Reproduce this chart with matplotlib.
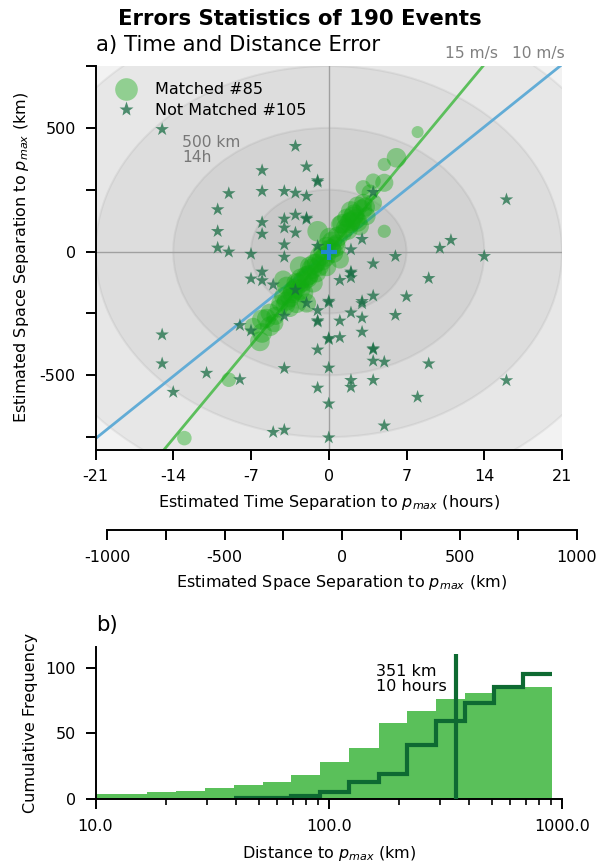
import matplotlib
matplotlib.use("Agg")
import matplotlib.pyplot as plt
from matplotlib.patches import Ellipse
from matplotlib.lines import Line2D
from matplotlib.ticker import FixedLocator, FuncFormatter, LogLocator, NullFormatter
import numpy as np

plt.rcParams['font.family'] = ['DejaVu Sans']
plt.rcParams['axes.unicode_minus'] = False

# ---------------- data ----------------
# Matched events: time error (hours), space error (km), marker size
matched_hours = [8.0, 6.1, 5.0, 4.0, 5.0, 3.1, 3.7, 4.0, 3.1, 2.6, 2.0, 1.6, 2.0, 3.4, 2.8, 1.0, 1.3, 0.7,
                 5.0, 0.1, -1.0, -0.2, 0.4, 1.0, -0.8, -1.7, -1.1, -2.6, -2.0, -2.9, -3.8, -4.1, -1.4,
                 -2.3, -3.5, -4.1, -2.9, -2.0, -3.5, -4.4, -2.6, -1.1, -0.2, -6.0, -5.3, -5.3, -6.0,
                 -6.2, -6.8, -4.9, -9.0, -13.0, 1.9, 2.3, 2.6, 1.5, 3.0, 2.2, 1.2, 0.6, -0.5, -0.3,
                 -1.5, -2.3, -3.2, -3.0, -3.8, -2.5, -1.8, -0.6, 0.2, -1.3, -3.3, -4.5, -2.7, -0.9,
                 0.8, 1.7, 2.4, 3.3, -5.6, -4.8, 0.3, -1.9, -3.9]
matched_km = [483, 379, 352, 285, 278, 258, 238, 197, 197, 183, 163, 136, 123, 143, 102, 109, 76, 35,
              82, 55, 82, 21, -5, -32, -19, -60, -46, -60, -100, -127, -140, -113, -127,
              -167, -187, -181, -208, -208, -228, -208, -154, -86, -60, -275, -248, -302, -329,
              -363, -302, -289, -518, -754, 116, 150, 120, 95, 170, 140, 112, 20, 5, -20,
              -70, -120, -160, -150, -200, -110, -95, -35, 10, -50, -170, -230, -130, -60,
              60, 88, 130, 180, -270, -260, 40, -105, -215]
matched_size = [75, 200, 90, 120, 170, 120, 140, 160, 170, 200, 210, 180, 200, 170, 170, 170, 160, 150,
                90, 220, 220, 190, 210, 170, 210, 200, 190, 210, 220, 210, 190, 170, 190,
                210, 190, 170, 210, 190, 170, 150, 220, 190, 200, 210, 180, 200, 200,
                200, 150, 170, 110, 110, 220, 210, 200, 190, 210, 220, 200, 220, 210, 220,
                220, 220, 210, 210, 190, 220, 210, 220, 210, 210, 200, 170, 220, 210,
                210, 210, 210, 190, 190, 170, 210, 220, 200]

# Not matched events: time error (hours), space error (km)
unmatched_hours = [-15, -3, -6, -2, -1, -1,
                   -9, -6, -4, -3, -2,
                   -10, -6, -4, -3, -2, -2,
                   -10, -6, -4, -3,
                   -10, -9, -7, -4, -4, -1,
                   2, 3, 6, 10, 4,
                   -7, -6, -6, -5, -3,
                   2, 2, 2, 1, 9,
                   -2, 0, 0, 3, 3, 4, 7,
                   -1, 2, 3, 6,
                   -8, -7, -4,
                   -1, -1, 1, 3,
                   0, 0, 1, -1,
                   4, 4, 4, 5, 9,
                   -4, 0, -11, -8,
                   2, 2, 4, -1, 8,
                   4, 16, 11, 14, 16,
                   0, 5, 0,
                   -15, -15, -14, -5, -4]
unmatched_km = [494, 426, 328, 343, 287, 281,
                235, 244, 244, 237, 224,
                170, 118, 132, 148, 136, 131,
                82, 71, 96, 76,
                15, -1, -10, 28, -22, 22,
                8, 50, -19, 14, -49,
                -110, -82, -117, -134, -155,
                -82, -87, -105, -116, -108,
                -208, -200, -206, -201, -210, -179, -182,
                -238, -247, -268, -257,
                -298, -320, -260,
                -279, -284, -280, -325,
                -350, -355, -347, -397,
                -392, -396, -442, -446, -453,
                -472, -470, -491, -517,
                -520, -548, -520, -551, -588,
                240, 210, 46, -19, -521,
                -615, -704, -752,
                -336, -453, -568, -730, -721]

n_matched = 85
n_unmatched = 105

ring_hours = [28, 21, 14, 7]
ring_km = [1000, 750, 500, 250]
speeds_mps = [15, 10]
speed_colors = ['#5cbf5c', '#62acd6']

# histogram (cumulative counts per log bin)
bin_edges = [9.4, 12.5, 16.7, 22.1, 29.5, 39.3, 52.0, 69.2, 92.1, 122.7, 164, 217, 288, 384, 512, 678, 904]
cum_matched = [4, 4, 5, 6, 8, 11, 13, 18, 28, 39, 58, 67, 76, 81, 85, 85]
step_edges = [39.3, 52.0, 69.2, 92.1, 122.7, 164, 217, 288, 384, 512, 678, 904]
cum_unmatched = [1, 1, 2, 5, 13, 19, 41, 59, 73, 85, 95]
median_km = 351
median_hours = 10

# ---------------- figure ----------------
fig = plt.figure(figsize=(6, 8.65), dpi=100)

tick_kw = dict(length=7, width=1.4, labelsize=11.5, pad=7.2)

ax = fig.add_axes([95.5 / 600, (865 - 449.5) / 865, 466.5 / 600, 383.5 / 865])
ax.set_facecolor('#f2f2f2')
for h, k in zip(ring_hours, ring_km):
    ax.add_patch(Ellipse((0, 0), 2 * h, 2 * k, facecolor=(0, 0, 0, 0.045),
                         edgecolor=(0, 0, 0, 0.05), lw=1.5, zorder=0.5))
ax.axhline(0, color='#a0a0a0', lw=1, zorder=0.6)
ax.axvline(0, color='#a0a0a0', lw=1, zorder=0.6)

xl = np.array([-21, 21])
for v, c in zip(speeds_mps, speed_colors):
    ax.plot(xl, xl * v * 3.6, color=c, lw=2, zorder=1)

ax.scatter(matched_hours, matched_km, s=matched_size, color='#12ab12', alpha=0.4,
           edgecolors='none', zorder=2)
ax.scatter(unmatched_hours, unmatched_km, s=105, marker='*', color='#1a6e45', alpha=0.75,
           edgecolors='none', zorder=3)
ax.plot([0], [0], marker='+', ms=11, mew=3, color='#1f88d0', zorder=4)

ax.set_xlim(-21, 21)
ax.set_ylim(-800, 750)
ax.xaxis.set_major_locator(FixedLocator([-21, -14, -7, 0, 7, 14, 21]))
ax.yaxis.set_major_locator(FixedLocator([-750, -500, -250, 0, 250, 500, 750]))
ax.yaxis.set_major_formatter(FuncFormatter(lambda v, p: '%d' % v if v % 500 == 0 else ''))
ax.tick_params(**tick_kw)
for s in ['top', 'right']:
    ax.spines[s].set_visible(False)
for s in ['left', 'bottom']:
    ax.spines[s].set_linewidth(1.4)
ax.set_xlabel('Estimated Time Separation to $p_{max}$ (hours)', fontsize=11.5, labelpad=6)
ax.set_ylabel('Estimated Space Separation to $p_{max}$ (km)', fontsize=11.5, labelpad=6)

handles = [Line2D([], [], ls='', marker='o', ms=16.3, color='#12ab12', alpha=0.4, mec='none'),
           Line2D([], [], ls='', marker='*', ms=11, color='#1a6e45', alpha=0.75, mec='none')]
ax.legend(handles, ['Matched #%d' % n_matched, 'Not Matched #%d' % n_unmatched],
          loc='upper left', bbox_to_anchor=(0.0065, 0.987), frameon=False, fontsize=11.5,
          handlelength=2.0, handletextpad=0.85, labelspacing=0.35, borderaxespad=0.3)

ax.text(-13.2, 470, '500 km\n14h', color='#777777', fontsize=11.2, ha='left', va='top',
        linespacing=1.0)

fig.text(471.7 / 600, 1 - 58 / 865, '%d m/s' % speeds_mps[0], color='#808080', fontsize=11.2,
         ha='center', va='baseline')
fig.text(538 / 600, 1 - 58 / 865, '%d m/s' % speeds_mps[1], color='#808080', fontsize=11.2,
         ha='center', va='baseline')

fig.text(0.5, 1 - 25 / 865, 'Errors Statistics of %d Events' % (n_matched + n_unmatched),
         fontsize=15.3, fontweight='bold', ha='center', va='baseline')
fig.text(96 / 600, 1 - 50.7 / 865, 'a) Time and Distance Error', fontsize=15.3,
         ha='left', va='baseline')

# secondary distance axis
ax2 = fig.add_axes([107 / 600, (865 - 530) / 865, 470 / 600, 0.0001])
ax2.set_facecolor('none')
for s in ['top', 'right', 'left']:
    ax2.spines[s].set_visible(False)
ax2.spines['bottom'].set_linewidth(1.4)
ax2.set_xlim(-1000, 1000)
ax2.set_yticks([])
ax2.xaxis.set_major_locator(FixedLocator(list(range(-1000, 1001, 250))))
ax2.xaxis.set_major_formatter(FuncFormatter(lambda v, p: '%d' % v if v % 500 == 0 else ''))
ax2.tick_params(**tick_kw)
ax2.set_xlabel('Estimated Space Separation to $p_{max}$ (km)', fontsize=11.5, labelpad=6)

# histogram
ax3 = fig.add_axes([95.5 / 600, (865 - 799) / 865, 466.5 / 600, 152 / 865])
ax3.stairs(cum_matched, bin_edges, fill=True, color='#5ac05a', zorder=1)
ax3.stairs(cum_unmatched, step_edges, baseline=None, color='#0e6a32', lw=3, zorder=2)
ax3.vlines(median_km, 0, 110, color='#0e6a32', lw=3, zorder=3)
ax3.text(160, 103, '%d km\n%d hours' % (median_km, median_hours), fontsize=11.5,
         ha='left', va='top', linespacing=1.0)
ax3.set_xscale('log')
ax3.set_xlim(10, 1000)
ax3.set_ylim(0, 115.7)
ax3.xaxis.set_major_locator(FixedLocator([10, 100, 1000]))
ax3.xaxis.set_major_formatter(FuncFormatter(lambda v, p: '%.1f' % v))
ax3.xaxis.set_minor_locator(LogLocator(base=10, subs=np.arange(2, 10)))
ax3.xaxis.set_minor_formatter(NullFormatter())
ax3.yaxis.set_major_locator(FixedLocator([0, 50, 100]))
ax3.tick_params(**tick_kw)
ax3.tick_params(which='minor', length=4, width=1.2)
for s in ['top', 'right']:
    ax3.spines[s].set_visible(False)
for s in ['left', 'bottom']:
    ax3.spines[s].set_linewidth(1.4)
ax3.set_xlabel('Distance to $p_{max}$ (km)', fontsize=11.5, labelpad=7.5)
ax3.set_ylabel('Cumulative Frequency', fontsize=11.5, labelpad=5)
fig.text(96 / 600, 1 - 631 / 865, 'b)', fontsize=15.3, ha='left', va='baseline')

fig.savefig('out.png', dpi=100)
